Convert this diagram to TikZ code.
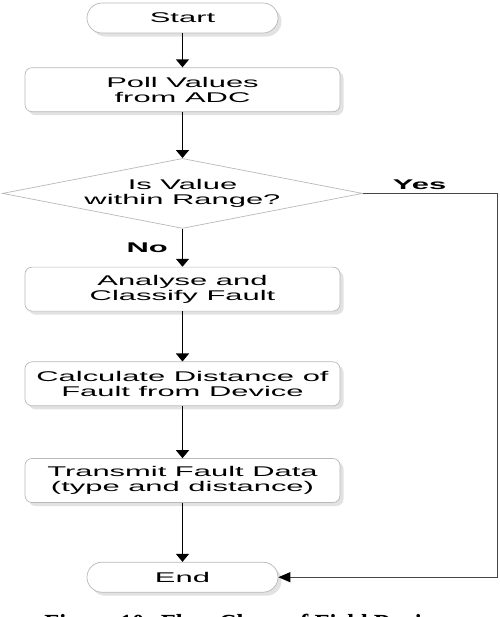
\documentclass[tikz,border=0pt]{standalone}
\usepackage{fontspec}
\setmainfont{Liberation Serif}
\newfontfamily\chartfont[FakeStretch=2.2]{Liberation Sans}
\usetikzlibrary{shapes,arrows.meta,positioning,shadows,calc}
\definecolor{bordergray}{RGB}{185,185,185}
\definecolor{shadowgray}{RGB}{226,226,226}
\definecolor{loopgray}{RGB}{70,70,70}
\tikzset{
    % Define standard node styles
    processbox/.style={
        rectangle, draw=bordergray, fill=white,
        minimum width=6.3cm, minimum height=0.88cm,
        align=center, rounded corners=4pt,
        font=\chartfont\fontsize{8}{8.6}\selectfont,
        drop shadow={shadow xshift=2pt, shadow yshift=-2pt, fill=shadowgray, opacity=1}
    },
    terminalbox/.style={
        rectangle, draw=bordergray, fill=white,
        minimum width=3.82cm, minimum height=0.6cm,
        rounded corners=0.3cm,
        font=\chartfont\fontsize{8}{8.6}\selectfont,
        drop shadow={shadow xshift=2pt, shadow yshift=-2pt, fill=shadowgray, opacity=1}
    },
    decisionbox/.style={
        diamond, draw=bordergray, fill=white,
        minimum width=7.2cm, minimum height=1.4cm,
        aspect=5.14, inner sep=0pt, align=center,
        font=\chartfont\fontsize{8}{8.6}\selectfont
    },
    arrow/.style={
        -{Triangle[width=0.26cm, length=0.16cm]}, line width=0.75pt, color=black
    },
    looparrow/.style={
        -{Triangle[width=0.2cm, length=0.24cm, color=black]}, line width=0.6pt, color=loopgray
    },
    branchlabel/.style={
        font=\chartfont\bfseries\fontsize{8}{8.6}\selectfont
    }
}

\begin{document}
\begin{tikzpicture}

\useasboundingbox (0,0) rectangle (10,-12.34);

\node[terminalbox] (start) at (3.65,-0.36) {Start};
\node[processbox, below=0.68cm of start] (poll) {Poll Values\\from ADC};
\node[decisionbox, below=0.92cm of poll] (inrange) {Is Value\\within Range?};
\node[processbox, below=0.76cm of inrange] (classify) {Analyse and\\Classify Fault};
\node[processbox, below=1.0cm of classify] (distance) {Calculate Distance of\\Fault from Device};
\node[processbox, below=1.04cm of distance] (transmit) {Transmit Fault Data\\(type and distance)};
\node[terminalbox, below=1.18cm of transmit] (end) {End};

\coordinate (turn) at ($(inrange.east)+(2.7,0)$);

\draw[arrow] (start) -- (poll);
\draw[arrow] (poll) -- (inrange);
\draw[arrow] (inrange) -- node[branchlabel, left, inner sep=8pt] {No} (classify);
\draw[arrow] (classify) -- (distance);
\draw[arrow] (distance) -- (transmit);
\draw[arrow] (transmit) -- (end);
\draw[looparrow] (inrange.east) -- node[branchlabel, above, pos=0.42, text=black, inner sep=2pt] {Yes} (turn) |- (end.east);

% caption runs off the lower edge, as in the scan
\node[font=\bfseries\fontsize{14}{16}\selectfont, anchor=base] (caption) at (4.88,-12.62) {Figure 10: Flow Chart of Field Device};

\end{tikzpicture}
\end{document}
